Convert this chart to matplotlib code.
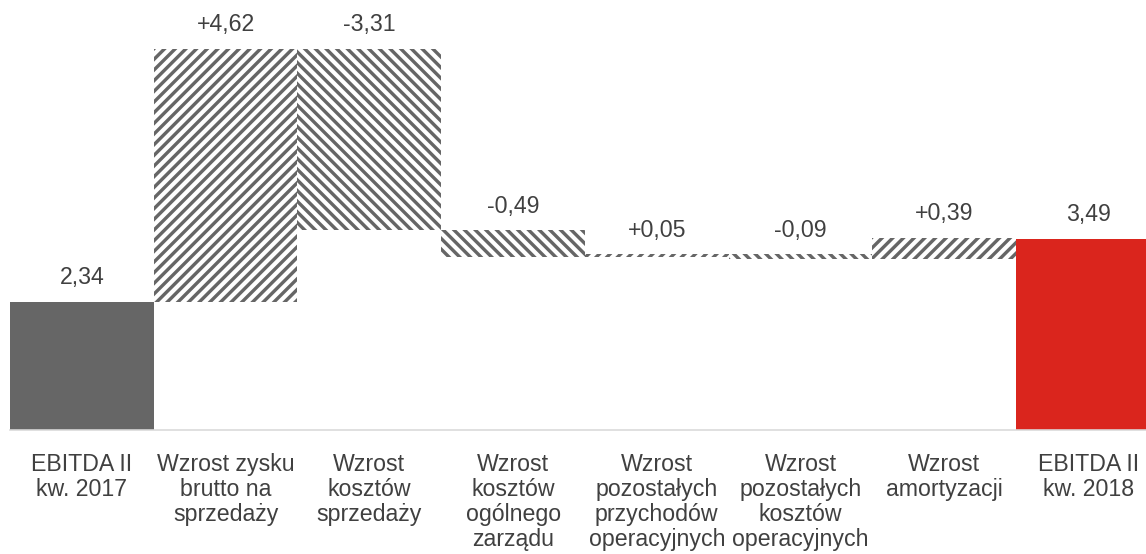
import matplotlib
matplotlib.use("Agg")
import matplotlib.pyplot as plt
import numpy as np

categories = ["EBITDA II\nkw. 2017", "Wzrost zysku\nbrutto na\nsprzedaży", "Wzrost\nkosztów\nsprzedaży",
              "Wzrost\nkosztów\nogólnego\nzarządu", "Wzrost\npozostałych\nprzychodów\noperacyjnych",
              "Wzrost\npozostałych\nkosztów\noperacyjnych", "Wzrost\namortyzacji", "EBITDA II\nkw. 2018"]
start_value = 2.34
deltas = [4.62, -3.31, -0.49, 0.05, -0.09, 0.39]
end_value = 3.49
value_labels = ["2,34", "+4,62", "-3,31", "-0,49", "+0,05", "-0,09", "+0,39", "3,49"]

DPI = 128
plt.rcParams['font.family'] = ['Liberation Sans', 'DejaVu Sans']
plt.rcParams['hatch.color'] = '#666666'
plt.rcParams['hatch.linewidth'] = 1.9

fig = plt.figure(figsize=(1146 / DPI, 554 / DPI), dpi=DPI)
ax = fig.add_axes([10 / 1146, 124 / 554, 1150 / 1146, 430 / 554])

x = np.arange(len(categories))
cum = start_value
bottoms = [0]
heights = [start_value]
tops = [start_value]
for d in deltas:
    new = cum + d
    bottoms.append(min(cum, new))
    heights.append(abs(d))
    tops.append(max(cum, new))
    cum = new
bottoms.append(0)
heights.append(end_value)
tops.append(end_value)

text_color = '#404040'
FS = 13
ax.bar(x[0], heights[0], bottom=bottoms[0], width=1.0, color='#666666', linewidth=0)
ax.bar(x[-1], heights[-1], bottom=bottoms[-1], width=1.0, color='#DA251D', linewidth=0)
for i, d in enumerate(deltas, start=1):
    hatch = '////' if d > 0 else '\\\\\\\\'
    ax.bar(x[i], heights[i], bottom=bottoms[i], width=1.0, color='white',
           edgecolor='#666666', linewidth=0, hatch=hatch)

for i in range(len(categories)):
    ax.annotate(value_labels[i], (x[i], tops[i]), xytext=(0, 10), textcoords='offset points',
                ha='center', va='baseline', fontsize=FS, color=text_color)

ax.set_xlim(-0.5, 7.5)
ax.set_ylim(0, 7.86)
ax.set_yticks([])
ax.set_xticks(x)
ax.set_xticklabels(categories, fontsize=FS, color=text_color, linespacing=1.1)
ax.tick_params(axis='x', length=0, pad=13)
for s in ['top', 'right', 'left']:
    ax.spines[s].set_visible(False)
ax.spines['bottom'].set_color('#d9d9d9')
ax.spines['bottom'].set_linewidth(0.9)

fig.savefig("out.png", dpi=DPI)
